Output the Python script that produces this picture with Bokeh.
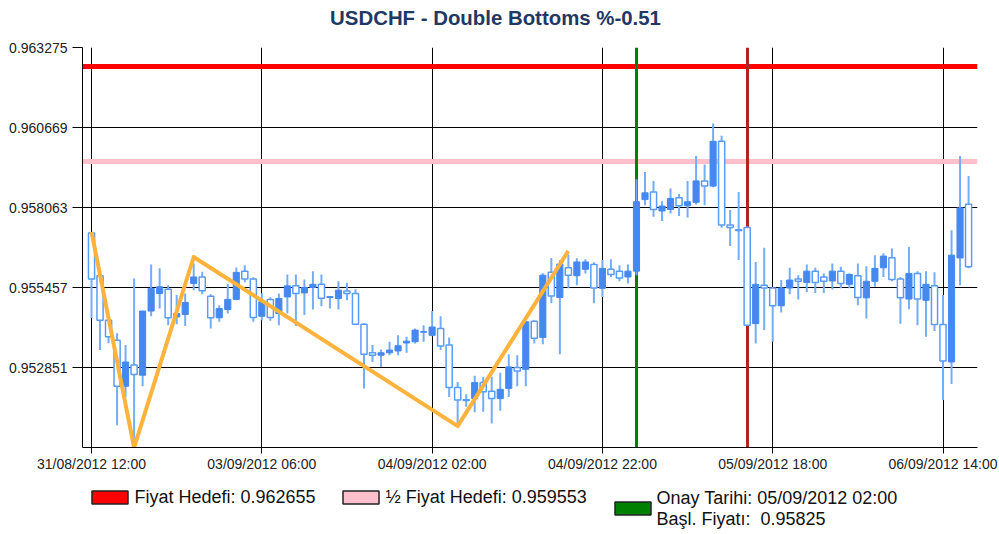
from bokeh.plotting import figure
from bokeh.layouts import column
from bokeh.models import (Range1d, FixedTicker, PrintfTickFormatter, ColumnDataSource,
                          Legend, LegendItem, Label)
from bokeh.embed import file_html
from bokeh.resources import INLINE

# ---------------- data ----------------
title_text = "USDCHF - Double Bottoms %-0.51"

opens = [0.95723, 0.95584, 0.95439, 0.95374, 0.95224, 0.95293, 0.95260, 0.95469, 0.95526, 0.95540,
         0.95450, 0.95458, 0.95559, 0.95580, 0.95517, 0.95447, 0.95474, 0.95507, 0.95599, 0.95573,
         0.95452, 0.95507, 0.95461, 0.95515, 0.95551, 0.95528, 0.95546, 0.95556, 0.95513, 0.95510,
         0.95534, 0.95526, 0.95426, 0.95333, 0.95325, 0.95333, 0.95339, 0.95365, 0.95369, 0.95400,
         0.95390, 0.95412, 0.95358, 0.95220, 0.95180, 0.95184, 0.95236, 0.95208, 0.95184, 0.95217,
         0.95285, 0.95279, 0.95436, 0.95383, 0.95595, 0.95513, 0.95610, 0.95584, 0.95605, 0.95621,
         0.95543, 0.95605, 0.95599, 0.95580, 0.95599, 0.95832, 0.95857, 0.95795, 0.95800, 0.95838,
         0.95812, 0.95823, 0.95893, 0.95876, 0.96022, 0.95749, 0.95734, 0.95741, 0.95428, 0.95553,
         0.95544, 0.95486, 0.95544, 0.95573, 0.95562, 0.95599, 0.95580, 0.95567, 0.95599, 0.95556,
         0.95584, 0.95512, 0.95566, 0.95610, 0.95643, 0.95573, 0.95508, 0.95591, 0.95504, 0.95551,
         0.95425, 0.95303, 0.95642, 0.95817]
highs = [0.95726, 0.95586, 0.95446, 0.95397, 0.95358, 0.95575, 0.95470, 0.95621, 0.95608, 0.95553,
         0.95521, 0.95526, 0.95624, 0.95597, 0.95524, 0.95488, 0.95557, 0.95611, 0.95618, 0.95579,
         0.95527, 0.95514, 0.95526, 0.95588, 0.95588, 0.95572, 0.95599, 0.95588, 0.95517, 0.95566,
         0.95561, 0.95540, 0.95429, 0.95358, 0.95344, 0.95369, 0.95390, 0.95385, 0.95412, 0.95423,
         0.95469, 0.95452, 0.95383, 0.95238, 0.95198, 0.95258, 0.95255, 0.95255, 0.95268, 0.95328,
         0.95325, 0.95436, 0.95439, 0.95592, 0.95642, 0.95635, 0.95653, 0.95641, 0.95638, 0.95628,
         0.95635, 0.95638, 0.95618, 0.95621, 0.95898, 0.95922, 0.95893, 0.95827, 0.95868, 0.95850,
         0.95893, 0.95974, 0.95946, 0.96080, 0.96040, 0.95798, 0.95857, 0.95745, 0.95629, 0.95675,
         0.95547, 0.95570, 0.95610, 0.95586, 0.95621, 0.95610, 0.95591, 0.95624, 0.95613, 0.95592,
         0.95624, 0.95615, 0.95651, 0.95657, 0.95673, 0.95580, 0.95678, 0.95599, 0.95599, 0.95595,
         0.95521, 0.95732, 0.95974, 0.95909]
lows = [0.95446, 0.95342, 0.95364, 0.95097, 0.95189, 0.95025, 0.95224, 0.95452, 0.95477, 0.95423,
        0.95426, 0.95420, 0.95537, 0.95524, 0.95412, 0.95434, 0.95461, 0.95504, 0.95563, 0.95434,
        0.95439, 0.95437, 0.95423, 0.95461, 0.95420, 0.95456, 0.95474, 0.95485, 0.95477, 0.95474,
        0.95504, 0.95423, 0.95217, 0.95303, 0.95287, 0.95325, 0.95325, 0.95333, 0.95363, 0.95369,
        0.95387, 0.95342, 0.95189, 0.95097, 0.95157, 0.95139, 0.95141, 0.95103, 0.95144, 0.95189,
        0.95224, 0.95224, 0.95363, 0.95361, 0.95494, 0.95328, 0.95543, 0.95553, 0.95591, 0.95494,
        0.95515, 0.95580, 0.95566, 0.95559, 0.95586, 0.95814, 0.95776, 0.95762, 0.95787, 0.95779,
        0.95774, 0.95816, 0.95814, 0.95872, 0.95740, 0.95681, 0.95635, 0.95420, 0.95363, 0.95407,
        0.95369, 0.95464, 0.95524, 0.95507, 0.95531, 0.95528, 0.95528, 0.95539, 0.95543, 0.95543,
        0.95488, 0.95445, 0.95548, 0.95580, 0.95566, 0.95428, 0.95475, 0.95423, 0.95385, 0.95404,
        0.95179, 0.95231, 0.95553, 0.95608]
closes = [0.95573, 0.95439, 0.95385, 0.95224, 0.95303, 0.95262, 0.95469, 0.95543, 0.95548, 0.95447,
          0.95461, 0.95497, 0.95580, 0.95535, 0.95447, 0.95477, 0.95507, 0.95595, 0.95573, 0.95448,
          0.95499, 0.95448, 0.95510, 0.95551, 0.95526, 0.95546, 0.95556, 0.95511, 0.95516, 0.95537,
          0.95526, 0.95426, 0.95328, 0.95325, 0.95333, 0.95342, 0.95356, 0.95371, 0.95407, 0.95402,
          0.95417, 0.95355, 0.95220, 0.95179, 0.95178, 0.95236, 0.95206, 0.95184, 0.95214, 0.95287,
          0.95274, 0.95434, 0.95380, 0.95586, 0.95518, 0.95622, 0.95586, 0.95629, 0.95629, 0.95544,
          0.95608, 0.95588, 0.95577, 0.95599, 0.95825, 0.95854, 0.95800, 0.95811, 0.95836, 0.95812,
          0.95825, 0.95893, 0.95876, 0.96022, 0.95749, 0.95741, 0.95731, 0.95423, 0.95556, 0.95544,
          0.95486, 0.95544, 0.95570, 0.95566, 0.95599, 0.95562, 0.95566, 0.95599, 0.95559, 0.95588,
          0.95513, 0.95566, 0.95608, 0.95648, 0.95572, 0.95512, 0.95591, 0.95508, 0.95556, 0.95425,
          0.95306, 0.95651, 0.95805, 0.95613]

# double-bottom pattern pivots (bar index, price)
pattern_bars = [0, 5, 12, 43, 56]
pattern_prices = [0.95727, 0.95024, 0.95645, 0.95094, 0.95665]

target_price = 0.962655
half_target_price = 0.959553
confirm_bar = 64
confirm_label = "05/09/2012 02:00"
start_price = 0.95825
end_bar = 77

x_tick_labels = ["31/08/2012 12:00", "03/09/2012 06:00", "04/09/2012 02:00",
                 "04/09/2012 22:00", "05/09/2012 18:00", "06/09/2012 14:00"]
x_tick_step = 20
y_ticks = [0.952851, 0.955457, 0.958063, 0.960669, 0.963275]
y_min = 0.950245

# ---------------- styling ----------------
FONT = "Liberation Sans"
UP_FILL = "#4589f0"
BODY_LINE = "#5a9cf5"
WICK = "#74adf7"
W = 999
H_TITLE = 30
H_MAIN = 444
H_LEG = 60


def strip(height):
    f = figure(width=W, height=height, output_backend="svg", toolbar_location=None,
               x_axis_type=None, y_axis_type=None, x_range=Range1d(0, 1), y_range=Range1d(0, 1),
               min_border_left=0, min_border_right=0, min_border_top=0, min_border_bottom=0)
    f.outline_line_color = None
    f.grid.visible = False
    f.background_fill_color = "white"
    f.border_fill_color = "white"
    return f


# ---------------- title strip ----------------
tt = strip(H_TITLE)
tt.add_layout(Label(x=413, y=13, x_units="screen", y_units="screen", text=title_text,
                    text_align="center", text_baseline="middle", text_font=FONT,
                    text_font_size="20.4px", text_font_style="bold", text_color="#1f3864"))

# ---------------- main chart ----------------
n = len(opens)
idx = list(range(n))
up = [closes[i] >= opens[i] for i in idx]

src_wick = ColumnDataSource(dict(x=idx, high=highs, low=lows))
src_up = ColumnDataSource(dict(
    x=[i for i in idx if up[i]],
    top=[closes[i] for i in idx if up[i]],
    bottom=[opens[i] for i in idx if up[i]]))
src_dn = ColumnDataSource(dict(
    x=[i for i in idx if not up[i]],
    top=[opens[i] for i in idx if not up[i]],
    bottom=[closes[i] for i in idx if not up[i]]))

p = figure(width=W, height=H_MAIN, output_backend="svg", toolbar_location=None,
           x_range=Range1d(-1.06, n + 0.05), y_range=Range1d(y_min, y_ticks[-1]),
           min_border_left=82, min_border_right=22, min_border_top=17, min_border_bottom=27)
p.outline_line_color = None
p.background_fill_color = "white"
p.border_fill_color = "white"

p.xaxis.ticker = FixedTicker(ticks=[k * x_tick_step for k in range(len(x_tick_labels))])
p.xaxis.major_label_overrides = {k * x_tick_step: lab for k, lab in enumerate(x_tick_labels)}
p.yaxis.ticker = FixedTicker(ticks=y_ticks)
p.yaxis.formatter = PrintfTickFormatter(format="%.6f")
for ax in (p.xaxis, p.yaxis):
    ax.axis_line_color = "black"
    ax.major_tick_line_color = "black"
    ax.major_tick_in = 0
    ax.minor_tick_in = 0
    ax.minor_tick_out = 0
    ax.major_label_text_font = FONT
    ax.major_label_text_font_size = "14px"
    ax.major_label_text_color = "#222222"
p.yaxis.major_tick_out = 10
p.yaxis.major_label_standoff = 5
p.xaxis.major_tick_out = 6
p.xaxis.major_label_standoff = 2
p.grid.grid_line_color = "black"
p.grid.grid_line_width = 1
p.grid.grid_line_alpha = 1

# reference lines
p.hspan(y=[target_price], line_color="#ff0000", line_width=5)
p.hspan(y=[half_target_price], line_color="#ffc0cb", line_width=5)
p.vspan(x=[confirm_bar], line_color="#008000", line_width=3)
p.vspan(x=[end_bar], line_color="#b22222", line_width=3)

# candles
p.segment(x0="x", y0="low", x1="x", y1="high", source=src_wick, line_color=WICK, line_width=2)
p.vbar(x="x", width=0.72, top="top", bottom="bottom", source=src_dn,
       fill_color="white", line_color=BODY_LINE, line_width=1.5)
p.vbar(x="x", width=0.72, top="top", bottom="bottom", source=src_up,
       fill_color=UP_FILL, line_color=UP_FILL, line_width=1)

# pattern
p.line(pattern_bars, pattern_prices, line_color="#ffb23c", line_width=4, line_join="round")

# ---------------- legend strip ----------------
lg = strip(H_LEG)
# legend-key stubs: one point each, outside the strip's visible range
stub = dict(x=[-1], y=[-1], width=0.1, height=0.1, line_color="#222222", line_width=1.5)
sw_red = lg.rect(fill_color="#ff0000", **stub)
sw_pink = lg.rect(fill_color="#ffc0cb", **stub)
sw_green = lg.rect(fill_color="#008000", **stub)

common = dict(orientation="horizontal", glyph_width=45, glyph_height=16, label_standoff=3,
              spacing=22, padding=0, margin=0, border_line_alpha=0, background_fill_alpha=0,
              label_text_font=FONT, label_text_font_size="18px", label_text_color="#111111")
leg1 = Legend(items=[LegendItem(label=f"Fiyat Hedefi: {target_price}", renderers=[sw_red]),
                     LegendItem(label=f"½ Fiyat Hedefi: {half_target_price}", renderers=[sw_pink])],
              location=(4.5, 26.5), **common)
leg2 = Legend(items=[LegendItem(label=" ", renderers=[sw_green])],
              location=(527.5, 17.6), **common)
lg.add_layout(leg1)
lg.add_layout(leg2)
# two-line text of the confirmation entry
for text, ly in ((f"Onay Tarihi: {confirm_label}", 37),
                 (f"Başl. Fiyatı: \u00a0{start_price}", 16)):
    lg.add_layout(Label(x=574, y=ly, x_units="screen", y_units="screen", text=text,
                        text_align="left", text_baseline="middle", text_font=FONT,
                        text_font_size="18px", text_color="#111111"))

layout = column(tt, p, lg, spacing=0)
open("out.html", "w").write(file_html(layout, INLINE))
